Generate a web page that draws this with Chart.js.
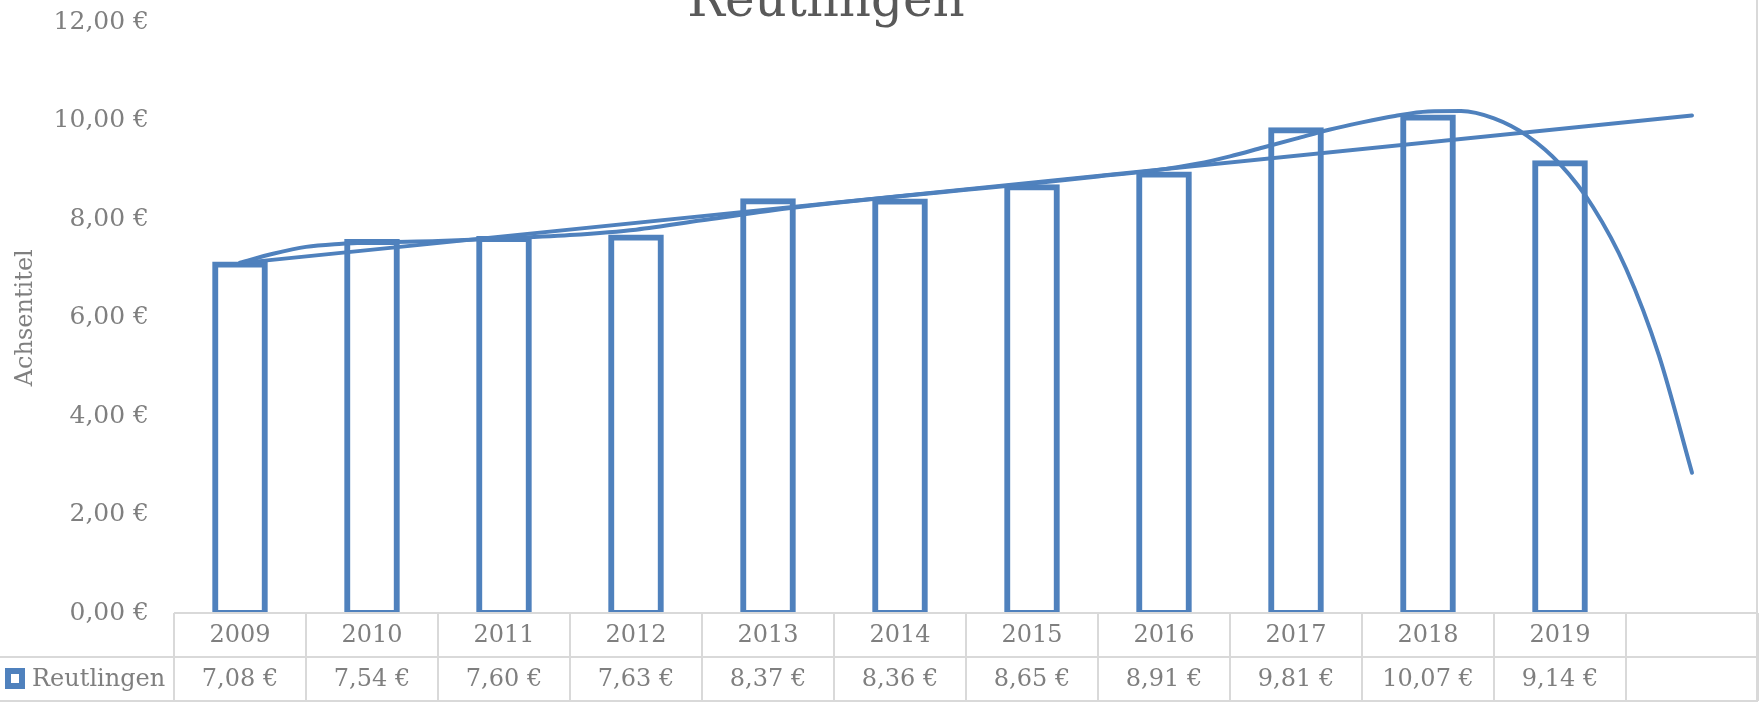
<!DOCTYPE html>
<html>
<head>
<meta charset="utf-8">
<script src="https://cdn.jsdelivr.net/npm/chart.js@4/dist/chart.umd.min.js"></script>
<style>
  html, body { margin: 0; padding: 0; background: #ffffff; }
  #wrap { width: 1760px; height: 702px; position: relative; overflow: hidden; }
  canvas { display: block; }
</style>
</head>
<body>
<div id="wrap"><canvas id="chart" width="1760" height="702"></canvas></div>
<script>
// ---- data ----
const chartTitle = 'Reutlingen';
const yAxisTitle = 'Achsentitel';
const seriesName = 'Reutlingen';
const years = ['2009', '2010', '2011', '2012', '2013', '2014', '2015', '2016', '2017', '2018', '2019', ''];
const prices = [7.08, 7.54, 7.60, 7.63, 8.37, 8.36, 8.65, 8.91, 9.81, 10.07, 9.14];
const yTicks = [0, 2, 4, 6, 8, 10, 12];
// linear trendline (category index -> value)
const linTrendX = [0, 11];
const linTrendY = [7.11, 10.11];
// polynomial trendline (category index -> value)
const polyTrendX = [0, 0.25, 0.5, 0.75, 1, 1.5, 2, 2.5, 3, 3.5, 4, 4.5, 5, 5.5, 6, 6.5, 7, 7.25, 7.5, 7.75, 8, 8.25, 8.5, 8.75, 9, 9.25, 9.5, 9.75, 10, 10.25, 10.5, 10.75, 11];
const polyTrendY = [7.12, 7.30, 7.44, 7.50, 7.53, 7.56, 7.61, 7.68, 7.79, 7.98, 8.17, 8.33, 8.47, 8.60, 8.73, 8.87, 9.02, 9.13, 9.28, 9.46, 9.64, 9.82, 9.97, 10.10, 10.19, 10.20, 10.05, 9.70, 9.12, 8.25, 7.00, 5.23, 2.85];

// ---- style ----
const BLUE = '#4f81bd';
const GRAY_TEXT = '#7f7f7f';
const GRID = '#d9d9d9';
const FONT = '"DejaVu Serif", "Liberation Serif", serif';

const euro = v => Number(v).toFixed(2).replace('.', ',') + ' €';

const titlePlugin = {
  id: 'customTitle',
  afterDraw(chart) {
    const ctx = chart.ctx;
    ctx.save();
    ctx.font = '50px ' + FONT;
    ctx.fillStyle = '#595959';
    ctx.textAlign = 'center';
    ctx.textBaseline = 'alphabetic';
    ctx.fillText(chartTitle, 826, 16);
    ctx.restore();
  }
};

const tablePlugin = {
  id: 'dataTable',
  afterDraw(chart) {
    const ctx = chart.ctx;
    const xs = chart.scales.x;
    const area = chart.chartArea;
    const n = years.length;
    const cellW = (xs.right - xs.left) / n;
    const y0 = area.bottom;
    const rowH = 44;
    const y1 = y0 + rowH;
    const y2 = y1 + rowH;
    ctx.save();
    ctx.strokeStyle = GRID;
    ctx.lineWidth = 2;
    ctx.beginPath();
    ctx.moveTo(xs.left, y0); ctx.lineTo(xs.right, y0);
    ctx.moveTo(0, y1); ctx.lineTo(xs.right, y1);
    ctx.moveTo(0, y2); ctx.lineTo(xs.right, y2);
    for (let i = 0; i <= n; i++) {
      const bx = Math.round(xs.left + i * cellW);
      ctx.moveTo(bx, y0); ctx.lineTo(bx, y2);
    }
    // right border of the plot
    ctx.moveTo(xs.right - 1, 0); ctx.lineTo(xs.right - 1, y2);
    ctx.stroke();

    ctx.font = '24px ' + FONT;
    ctx.fillStyle = GRAY_TEXT;
    ctx.textAlign = 'center';
    ctx.textBaseline = 'middle';
    for (let i = 0; i < n; i++) {
      const cx = xs.getPixelForValue(i);
      if (years[i]) ctx.fillText(years[i], cx, y0 + rowH / 2 + 1);
      if (i < prices.length) ctx.fillText(euro(prices[i]), cx, y1 + rowH / 2 + 1);
    }
    // legend key
    ctx.fillStyle = BLUE;
    ctx.fillRect(5, y1 + 11, 20, 21);
    ctx.fillStyle = '#ffffff';
    ctx.fillRect(11, y1 + 17, 8, 9);
    ctx.fillStyle = GRAY_TEXT;
    ctx.textAlign = 'left';
    ctx.fillText(seriesName, 32, y1 + rowH / 2 + 1);
    ctx.restore();
  }
};

new Chart(document.getElementById('chart'), {
  type: 'bar',
  data: {
    labels: years,
    datasets: [
      {
        type: 'line',
        label: 'Linear trend',
        data: linTrendX.map((x, i) => ({ x: x, y: linTrendY[i] })),
        xAxisID: 'x2',
        yAxisID: 'y',
        borderColor: BLUE,
        borderWidth: 4,
        borderCapStyle: 'round',
        pointRadius: 0,
        fill: false,
        order: 0
      },
      {
        type: 'line',
        label: 'Polynomial trend',
        data: polyTrendX.map((x, i) => ({ x: x, y: polyTrendY[i] })),
        xAxisID: 'x2',
        yAxisID: 'y',
        borderColor: BLUE,
        borderWidth: 4,
        borderCapStyle: 'round',
        borderJoinStyle: 'round',
        cubicInterpolationMode: 'monotone',
        pointRadius: 0,
        fill: false,
        order: 0
      },
      {
        label: seriesName,
        data: prices,
        xAxisID: 'x',
        yAxisID: 'y',
        backgroundColor: '#ffffff',
        borderColor: BLUE,
        borderWidth: 6,
        borderSkipped: false,
        inflateAmount: 3,
        grouped: false,
        barPercentage: 0.376,
        categoryPercentage: 1.0,
        order: 1
      }
    ]
  },
  options: {
    responsive: false,
    animation: false,
    devicePixelRatio: 1,
    layout: { padding: { top: 22.5, bottom: 89, left: 0, right: 2 } },
    plugins: {
      legend: { display: false },
      title: { display: false },
      tooltip: { enabled: false }
    },
    scales: {
      x: {
        type: 'category',
        display: false,
        offset: true,
        grid: { display: false }
      },
      x2: {
        type: 'linear',
        display: false,
        offset: false,
        grid: { offset: false },
        min: -0.5,
        max: 11.5
      },
      y: {
        min: 0,
        max: 12,
        afterBuildTicks: s => { s.ticks = yTicks.map(v => ({ value: v })); },
        afterFit: s => { s.width = 174; s.paddingTop = 0; s.paddingBottom = 0; },
        grid: { display: false, drawTicks: false },
        border: { display: false },
        ticks: {
          callback: v => euro(v),
          font: { family: FONT, size: 25 },
          color: GRAY_TEXT,
          padding: 25
        },
        title: {
          display: true,
          text: yAxisTitle,
          font: { family: FONT, size: 24 },
          color: GRAY_TEXT,
          padding: { top: 11, bottom: 0 }
        }
      }
    }
  },
  plugins: [titlePlugin, tablePlugin]
});
</script>
</body>
</html>
